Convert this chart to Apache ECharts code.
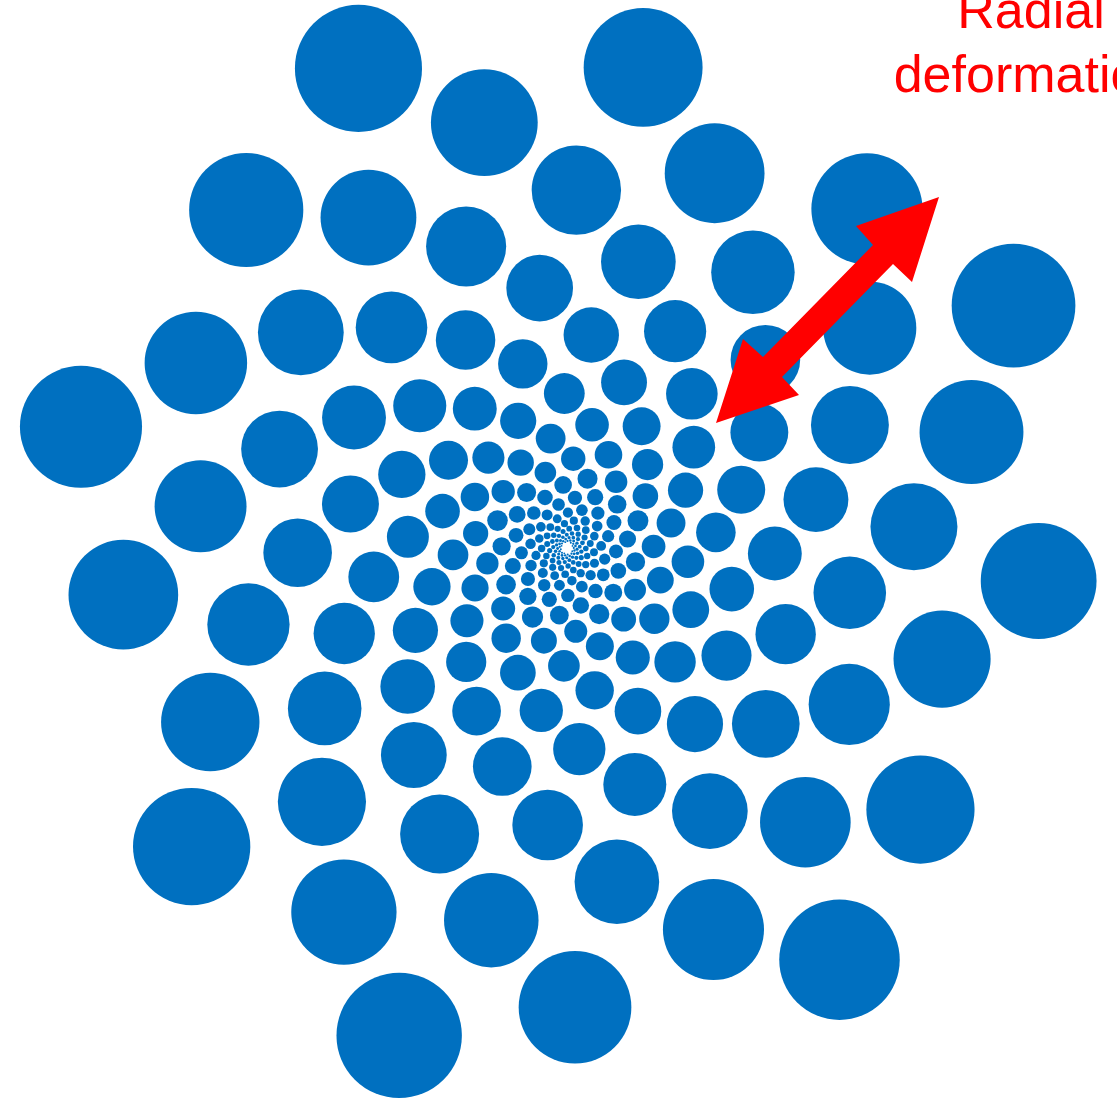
<!DOCTYPE html>
<html>
<head>
<meta charset="utf-8">
<script src="https://cdn.jsdelivr.net/npm/echarts@6/dist/echarts.min.js"></script>
<style>
  html, body { margin: 0; padding: 0; background: #fff; }
  #chart { width: 1117px; height: 1100px; }
</style>
</head>
<body>
<div id="chart"></div>
<script>
// distance of each dot from the spiral centre (px), outermost first
var dist = [
  523.0,515.5,508.1,500.9,493.7,486.6,479.6,472.8,466.0,459.3,
  452.7,446.1,439.7,433.3,427.0,420.8,414.7,408.7,402.8,396.9,
  391.2,385.5,379.8,374.2,368.8,363.3,358.0,352.8,347.6,342.5,
  337.5,332.5,327.6,322.7,317.9,313.2,308.5,304.0,299.4,295.0,
  290.6,286.3,281.9,277.7,273.5,269.4,265.4,261.4,257.5,253.6,
  249.8,246.0,242.3,238.6,235.0,231.4,227.9,224.4,221.0,217.7,
  214.4,211.1,207.9,204.7,201.5,198.4,195.4,192.4,189.4,186.5,
  183.7,180.8,177.9,175.2,172.5,169.8,167.1,164.5,162.0,159.5,
  157.0,154.5,152.1,149.7,147.4,145.0,142.8,140.5,138.3,136.2,
  134.0,131.9,129.8,127.7,125.7,123.7,121.7,119.8,117.9,116.0,
  114.2,112.4,110.6,108.8,107.0,105.3,103.6,102.0,100.3,98.7,
  97.1,95.5,94.0,92.5,91.0,89.5,88.0,86.6,85.2,83.8,
  82.5,81.1,79.8,78.5,77.2,76.0,74.7,73.5,72.3,71.1,
  69.9,68.7,67.6,66.5,65.4,64.3,63.2,62.2,61.2,60.1,
  59.1,58.1,57.1,56.2,55.2,54.3,53.4,52.5,51.6,50.8,
  49.9,49.1,48.2,47.4,46.6,45.8,45.1,44.3,43.6,42.8,
  42.1,41.4,40.7,40.0,39.3,38.6,38.0,37.3,36.7,36.0,
  35.4,34.8,34.2,33.6,33.0,32.5,31.9,31.4,30.8,30.3,
  29.8,29.3,28.7,28.2,27.8,27.3,26.8,26.3,25.9,25.4,
  25.0,24.5,24.1,23.7,23.3,22.9,22.4,22.1,21.7,21.3,
  20.9,20.5,20.2,19.8,19.5,19.1,18.8,18.4,18.1,17.8,
  17.5,17.2,16.9,16.6,16.3,16.0,15.7,15.4,15.1,14.8,
  14.6,14.3,14.1,13.8,13.6,13.3,13.1,12.8,12.6,12.4,
  12.1,11.9,11.7,11.5,11.3,11.1,10.9,10.7,10.5,10.3,
  10.1,9.9,9.7,9.6,9.4,9.2,9.0,8.9,8.7,8.5,
  8.4,8.2,8.1,7.9,7.8,7.6,7.5,7.3,7.2,7.1,
  6.9,6.8,6.7,6.6,6.4,6.3,6.2,6.1,6.0,5.9,5.8
];

// angle of each dot, degrees clockwise from 3 o'clock
var angle = [
  246.5,109,331.5,194,56.5,279,141.5,4,226.5,89,
  311.5,174,36.5,259,121.5,344,206.5,69,291.5,154,
  16.5,239,101.5,324,186.5,49,271.5,134,356.5,219,
  81.5,304,166.5,29,251.5,114,336.5,199,61.5,284,
  146.5,9,231.5,94,316.5,179,41.5,264,126.5,349,
  211.5,74,296.5,159,21.5,244,106.5,329,191.5,54,
  276.5,139,1.5,224,86.5,309,171.5,34,256.5,119,
  341.5,204,66.5,289,151.5,14,236.5,99,321.5,184,
  46.5,269,131.5,354,216.5,79,301.5,164,26.5,249,
  111.5,334,196.5,59,281.5,144,6.5,229,91.5,314,
  176.5,39,261.5,124,346.5,209,71.5,294,156.5,19,
  241.5,104,326.5,189,51.5,274,136.5,359,221.5,84,
  306.5,169,31.5,254,116.5,339,201.5,64,286.5,149,
  11.5,234,96.5,319,181.5,44,266.5,129,351.5,214,
  76.5,299,161.5,24,
  246.5,109,331.5,194,56.5,279,141.5,4,226.5,89,
  311.5,174,36.5,259,121.5,344,206.5,69,291.5,154,
  16.5,239,101.5,324,186.5,49,271.5,134,356.5,219,
  81.5,304,166.5,29,251.5,114,336.5,199,61.5,284,
  146.5,9,231.5,94,316.5,179,41.5,264,126.5,349,
  211.5,74,296.5,159,21.5,244,106.5,329,191.5,54,
  276.5,139,1.5,224,86.5,309,171.5,34,256.5,119,
  341.5,204,66.5,289,151.5,14,236.5,99,321.5,184,
  46.5,269,131.5,354,216.5,79,301.5,164,26.5,249,
  111.5,334,196.5,59,281.5,144,6.5,229,91.5,314,
  176.5,39,261.5,124,346.5,209,71.5,294,156.5,19,
  241.5,104,326.5,189,51.5,274,136.5,359,221.5,84,
  306.5,169,31.5,254,116.5,339,201.5
];

// dot diameters (px)
var size = [
  127.1,125.4,123.7,122.1,120.5,118.9,117.3,115.8,114.2,112.7,
  111.2,109.7,108.2,106.8,105.3,103.9,102.5,101.1,99.8,98.4,
  97.1,95.8,94.5,93.2,91.9,90.6,89.4,88.2,87.0,85.8,
  84.6,83.5,82.3,81.2,80.1,79.0,77.9,76.8,75.7,74.7,
  73.6,72.6,71.6,70.6,69.6,68.6,67.7,66.7,65.8,64.9,
  63.9,63.0,62.2,61.3,60.4,59.5,58.7,57.9,57.0,56.2,
  55.4,54.6,53.9,53.1,52.3,51.6,50.8,50.1,49.4,48.7,
  48.0,47.3,46.6,45.9,45.2,44.6,43.9,43.3,42.7,42.0,
  41.4,40.8,40.2,39.6,39.0,38.4,37.9,37.3,36.8,36.2,
  35.7,35.2,34.6,34.1,33.6,33.1,32.6,32.1,31.7,31.2,
  30.7,30.3,29.8,29.4,28.9,28.5,28.0,27.6,27.2,26.8,
  26.4,26.0,25.6,25.2,24.8,24.4,24.0,23.7,23.3,23.0,
  22.6,22.3,21.9,21.6,21.2,20.9,20.6,20.3,20.0,19.7,
  19.3,19.0,18.7,18.5,18.2,17.9,17.6,17.3,17.1,16.8,
  16.5,16.2,16.0,15.7,15.5,15.2,15.0,14.8,14.5,14.3,
  14.1,13.9,13.6,13.4,13.2,13.0,12.8,12.6,12.4,12.2,
  12.0,11.8,11.6,11.4,11.2,11.0,10.9,10.7,10.5,10.3,
  10.2,10.0,9.8,9.7,9.5,9.4,9.2,9.1,8.9,8.8,
  8.6,8.5,8.3,8.2,8.1,7.9,7.8,7.7,7.6,7.4,
  7.3,7.2,7.1,6.9,6.8,6.7,6.6,6.5,6.4,6.3,
  6.2,6.1,6.0,5.9,5.8,5.7,5.6,5.5,5.4,5.3,
  5.2,5.1,5.0,5.0,4.9,4.8,4.7,4.6,4.5,4.4,
  4.4,4.3,4.2,4.2,4.1,4.0,4.0,3.9,3.8,3.8,
  3.7,3.6,3.5,3.5,3.4,3.4,3.3,3.3,3.2,3.1,
  3.1,3.0,3.0,2.9,2.9,2.8,2.8,2.7,2.7,2.6,
  2.6,2.5,2.5,2.4,2.4,2.4,2.3,2.3,2.2,2.2,
  2.1,2.1,2.1,2.0,2.0,2.0,1.9,1.9,1.9,1.8,1.8
];

var labelLines = ['Radial', 'deformation'];

(function() {
    var chart = echarts.init(document.getElementById('chart'));

    var dots = [];
    for (var i = 0; i < dist.length; i++) {
        dots.push([dist[i], angle[i], size[i]]);
    }

    var option = {
        animation: false,
        backgroundColor: '#ffffff',
        polar: {
            center: [567, 548],
            radius: 600
        },
        angleAxis: {
            type: 'value',
            min: 0,
            max: 360,
            startAngle: 0,
            clockwise: true,
            show: false
        },
        radiusAxis: {
            type: 'value',
            min: 0,
            max: 600,
            show: false
        },
        series: [
            {
                type: 'scatter',
                coordinateSystem: 'polar',
                silent: true,
                symbol: 'circle',
                symbolSize: function(v) { return v[2]; },
                itemStyle: {
                    color: '#0070C0',
                    opacity: 1
                },
                data: dots
            }
        ],
        graphic: [
            {
                type: 'polygon',
                z: 100,
                shape: {
                    points: [
                        [939, 197], [856, 226], [873, 245], [763, 357], [743, 339],
                        [716, 423], [799, 395], [782, 377], [893, 264], [912, 282]
                    ]
                },
                style: { fill: '#FF0000' }
            },
            {
                type: 'text',
                z: 100,
                x: 1031,
                y: 14,
                style: {
                    text: labelLines[0],
                    font: '52px "Liberation Sans", Arial, sans-serif',
                    fill: '#FF0000',
                    align: 'center',
                    verticalAlign: 'middle'
                }
            },
            {
                type: 'text',
                z: 100,
                x: 1031,
                y: 78,
                style: {
                    text: labelLines[1],
                    font: '52px "Liberation Sans", Arial, sans-serif',
                    fill: '#FF0000',
                    align: 'center',
                    verticalAlign: 'middle'
                }
            }
        ]
    };
    chart.setOption(option);
})();
</script>
</body>
</html>
